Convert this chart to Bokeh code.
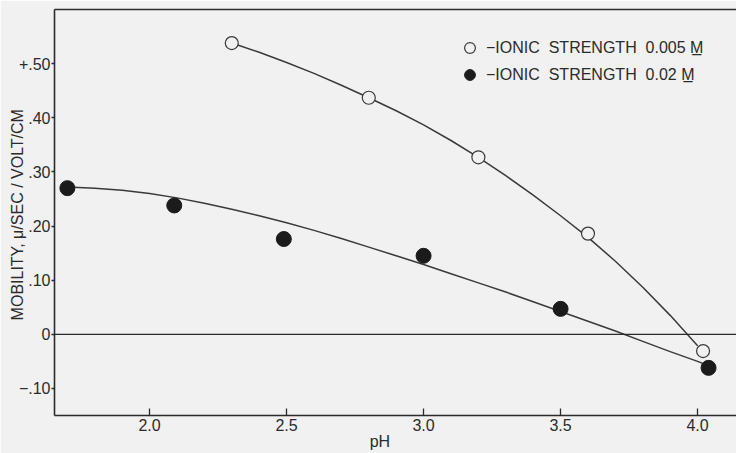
from bokeh.plotting import figure
from bokeh.models import (Span, Legend, LegendItem, LinearAxis, FixedTicker, Range1d)
from bokeh.embed import file_html
from bokeh.resources import INLINE

# ---- data ----
# ionic strength 0.005 M (open circles)
ph_low = [2.30, 2.80, 3.20, 3.60, 4.02]
mob_low = [0.538, 0.437, 0.327, 0.186, -0.031]
# ionic strength 0.02 M (filled circles)
ph_high = [1.70, 2.09, 2.49, 3.00, 3.50, 4.04]
mob_high = [0.270, 0.238, 0.176, 0.145, 0.047, -0.062]

# hand-drawn curves, read along their length
curve_low_ph = [2.30, 2.40, 2.50, 2.60, 2.70, 2.80, 2.90, 3.00, 3.10, 3.20,
                3.30, 3.40, 3.50, 3.60, 3.70, 3.80, 3.90, 4.00]
curve_low_mob = [0.538, 0.521, 0.502, 0.482, 0.460, 0.437, 0.413, 0.387, 0.358, 0.327,
                 0.293, 0.257, 0.219, 0.179, 0.135, 0.087, 0.035, -0.021]
curve_high_ph = [1.70, 1.80, 1.90, 2.00, 2.10, 2.20, 2.30, 2.40, 2.50, 2.60, 2.70,
                 2.80, 2.90, 3.00, 3.10, 3.20, 3.30, 3.40, 3.50, 3.60, 3.70, 3.80,
                 3.90, 4.00, 4.04]
curve_high_mob = [0.272, 0.270, 0.266, 0.260, 0.252, 0.242, 0.231, 0.219, 0.206, 0.192,
                  0.177, 0.161, 0.145, 0.129, 0.112, 0.095, 0.078, 0.060, 0.042, 0.024,
                  0.006, -0.013, -0.032, -0.050, -0.058]

x_ticks = [2.0, 2.5, 3.0, 3.5, 4.0]
x_tick_labels = ["2.0", "2.5", "3.0", "3.5", "4.0"]
y_ticks = [-0.1, 0, 0.1, 0.2, 0.3, 0.4, 0.5]
y_tick_labels = ["\u2212.10", "0", ".10", ".20", ".30", ".40", "+.50"]

series_labels = ["\u2212IONIC  STRENGTH  0.005 M\u0332",
                 "\u2212IONIC  STRENGTH  0.02 M\u0332"]
x_title = "pH" + "\u00a0" * 7
y_title = "MOBILITY,  \u03bc/SEC / VOLT/CM"

BG = "#f1f1f1"
INK = "#2b2b2b"
TEXT_FONT = "Liberation Sans"

p = figure(width=736, height=453, output_backend="svg", toolbar_location=None,
           x_range=Range1d(1.653, 4.142), y_range=Range1d(-0.150, 0.600),
           min_border_left=54, min_border_right=0, min_border_top=9,
           min_border_bottom=38, background_fill_color=BG, border_fill_color=BG,
           outline_line_color=None)
p.grid.visible = False

# axes
p.xaxis.ticker = FixedTicker(ticks=x_ticks)
p.xaxis.major_label_overrides = dict(zip(x_ticks, x_tick_labels))
p.yaxis.ticker = FixedTicker(ticks=y_ticks)
p.yaxis.major_label_overrides = dict(zip(y_ticks, y_tick_labels))
for ax in (p.xaxis[0], p.yaxis[0]):
    ax.axis_line_color = INK
    ax.axis_line_width = 1.6
    ax.major_tick_line_color = INK
    ax.major_tick_line_width = 1.3
    ax.minor_tick_line_color = None
    ax.major_label_text_font = TEXT_FONT
    ax.major_label_text_font_size = "16px"
    ax.major_label_text_color = INK
    ax.axis_label_text_font = TEXT_FONT
    ax.axis_label_text_font_size = "16px"
    ax.axis_label_text_font_style = "normal"
    ax.axis_label_text_color = INK
p.xaxis.major_tick_in = 7
p.xaxis.major_tick_out = 0
p.xaxis.major_label_standoff = 3
p.xaxis.axis_label = x_title
p.xaxis.axis_label_standoff = -1
p.yaxis.major_tick_in = 0
p.yaxis.major_tick_out = 3
p.yaxis.major_label_standoff = 1
p.yaxis.axis_label = y_title
p.yaxis.axis_label_standoff = -10

top_axis = LinearAxis(ticker=FixedTicker(ticks=[]), axis_line_color=INK,
                      axis_line_width=1.6, major_tick_line_color=None,
                      minor_tick_line_color=None, major_label_text_font_size="0px")
p.add_layout(top_axis, "above")

# zero line
p.add_layout(Span(location=0, dimension="width", line_color=INK, line_width=1.3))

# curves
p.line(curve_low_ph, curve_low_mob, line_color="#3a3a3a", line_width=1.5)
p.line(curve_high_ph, curve_high_mob, line_color="#3a3a3a", line_width=1.5)

# points
r_open = p.scatter(ph_low, mob_low, marker="circle", size=13, fill_color=BG,
                   line_color="#3a3a3a", line_width=1.2)
r_fill = p.scatter(ph_high, mob_high, marker="circle", size=15, fill_color="#1b1b1b",
                   line_color="#1b1b1b", line_width=1)

legend = Legend(items=[LegendItem(label=series_labels[0], renderers=[r_open]),
                       LegendItem(label=series_labels[1], renderers=[r_fill])],
                location=(399, 327), orientation="vertical",
                glyph_width=33, glyph_height=27, label_height=27, spacing=0,
                padding=0, margin=0, label_standoff=0, label_text_font=TEXT_FONT,
                label_text_font_size="16px", label_text_color=INK,
                border_line_color=None, background_fill_color=None)
p.add_layout(legend, "center")

open("out.html", "w").write(file_html(p, INLINE))
